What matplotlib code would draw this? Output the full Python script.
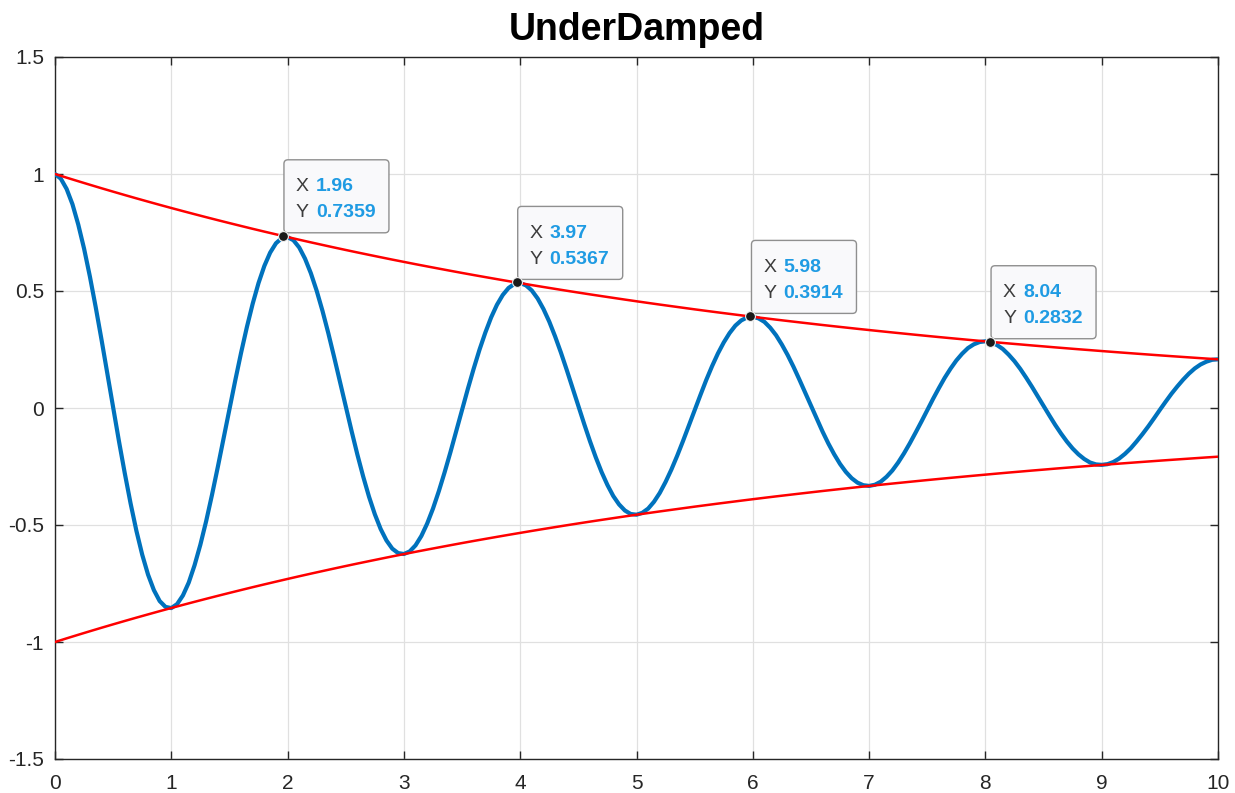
import matplotlib
matplotlib.use("Agg")
import matplotlib.pyplot as plt
from matplotlib.patches import FancyBboxPatch
from matplotlib.transforms import IdentityTransform

plt.rcParams['font.family'] = ['Liberation Sans', 'DejaVu Sans']
plt.rcParams['axes.unicode_minus'] = False

# ---- data ----
t = [round(0.05 * k, 2) for k in range(201)]
response = [
    1.000, 0.980, 0.936, 0.871, 0.784, 0.681, 0.562, 0.431, 0.292, 0.147,
    0.002, -0.142, -0.279, -0.408, -0.525, -0.627, -0.712, -0.778, -0.825, -0.850,
    -0.855, -0.838, -0.801, -0.746, -0.672, -0.584, -0.483, -0.371, -0.252, -0.129,
    -0.005, 0.118, 0.236, 0.346, 0.446, 0.534, 0.607, 0.664, 0.704, 0.726,
    0.730, 0.717, 0.686, 0.638, 0.576, 0.501, 0.415, 0.320, 0.218, 0.113,
    0.007, -0.098, -0.199, -0.293, -0.379, -0.454, -0.517, -0.566, -0.601, -0.620,
    -0.624, -0.613, -0.587, -0.547, -0.494, -0.430, -0.356, -0.275, -0.189, -0.099,
    -0.008, 0.082, 0.168, 0.249, 0.322, 0.387, 0.441, 0.483, 0.513, 0.530,
    0.534, 0.524, 0.502, 0.468, 0.423, 0.369, 0.306, 0.237, 0.163, 0.086,
    0.009, -0.068, -0.142, -0.211, -0.274, -0.329, -0.376, -0.412, -0.438, -0.453,
    -0.456, -0.448, -0.430, -0.401, -0.363, -0.316, -0.263, -0.204, -0.141, -0.075,
    -0.009, 0.056, 0.120, 0.179, 0.233, 0.280, 0.320, 0.352, 0.374, 0.387,
    0.390, 0.383, 0.368, 0.343, 0.311, 0.271, 0.226, 0.176, 0.122, 0.066,
    0.009, -0.047, -0.101, -0.152, -0.198, -0.239, -0.273, -0.300, -0.319, -0.330,
    -0.333, -0.328, -0.315, -0.294, -0.267, -0.233, -0.194, -0.151, -0.105, -0.058,
    -0.009, 0.039, 0.085, 0.129, 0.168, 0.203, 0.232, 0.256, 0.272, 0.282,
    0.285, 0.280, 0.269, 0.252, 0.228, 0.200, 0.167, 0.130, 0.091, 0.050,
    0.009, -0.032, -0.072, -0.109, -0.143, -0.173, -0.198, -0.218, -0.233, -0.241,
    -0.243, -0.240, -0.231, -0.216, -0.196, -0.172, -0.143, -0.112, -0.079, -0.044,
    -0.008, 0.027, 0.061, 0.092, 0.121, 0.147, 0.169, 0.186, 0.198, 0.206,
    0.208,
]
t_env = [round(0.1 * k, 1) for k in range(101)]
envelope_upper = [
    1.0000, 0.9844, 0.9691, 0.9540, 0.9391, 0.9245, 0.9101, 0.8959, 0.8820, 0.8682,
    0.8547, 0.8414, 0.8283, 0.8154, 0.8027, 0.7902, 0.7779, 0.7657, 0.7538, 0.7421,
    0.7305, 0.7191, 0.7079, 0.6969, 0.6860, 0.6753, 0.6648, 0.6545, 0.6443, 0.6342,
    0.6244, 0.6146, 0.6051, 0.5957, 0.5864, 0.5772, 0.5682, 0.5594, 0.5507, 0.5421,
    0.5337, 0.5253, 0.5171, 0.5091, 0.5011, 0.4933, 0.4856, 0.4781, 0.4707, 0.4633,
    0.4561, 0.4490, 0.4420, 0.4352, 0.4284, 0.4216, 0.4151, 0.4086, 0.4023, 0.3960,
    0.3898, 0.3837, 0.3777, 0.3719, 0.3661, 0.3604, 0.3547, 0.3492, 0.3438, 0.3384,
    0.3332, 0.3280, 0.3229, 0.3179, 0.3129, 0.3080, 0.3032, 0.2985, 0.2939, 0.2893,
    0.2848, 0.2803, 0.2759, 0.2717, 0.2674, 0.2633, 0.2591, 0.2551, 0.2511, 0.2473,
    0.2434, 0.2396, 0.2359, 0.2322, 0.2286, 0.2250, 0.2215, 0.2181, 0.2147, 0.2113,
    0.2081,
]
envelope_lower = [-v for v in envelope_upper]

tip_x = [1.96, 3.97, 5.98, 8.04]
tip_y = [0.7359, 0.5367, 0.3914, 0.2832]
tip_x_text = ["1.96", "3.97", "5.98", "8.04"]
tip_y_text = ["0.7359", "0.5367", "0.3914", "0.2832"]

xticks = [0, 1, 2, 3, 4, 5, 6, 7, 8, 9, 10]
xtick_labels = ["0", "1", "2", "3", "4", "5", "6", "7", "8", "9", "10"]
yticks = [-1.5, -1, -0.5, 0, 0.5, 1, 1.5]
ytick_labels = ["-1.5", "-1", "-0.5", "0", "0.5", "1", "1.5"]

title = "UnderDamped"

# ---- figure ----
fig = plt.figure(figsize=(12.35, 7.93), dpi=100)
ax = fig.add_axes([55 / 1235, 1 - 759 / 793, (1218 - 55) / 1235, (759 - 57) / 793])

ax.plot(t, response, color='#0072BD', lw=3.0, zorder=3,
        solid_capstyle='round', solid_joinstyle='round')
ax.plot(t_env, envelope_upper, color='#FF0000', lw=1.8, zorder=4)
ax.plot(t_env, envelope_lower, color='#FF0000', lw=1.8, zorder=4)

ax.set_xlim(0, 10)
ax.set_ylim(-1.5, 1.5)
ax.set_xticks(xticks)
ax.set_xticklabels(xtick_labels)
ax.set_yticks(yticks)
ax.set_yticklabels(ytick_labels)
ax.tick_params(direction='in', length=6, width=1, colors='#262626',
               top=True, right=True, labelsize=15)
ax.tick_params(axis='x', pad=11)
ax.tick_params(axis='y', pad=8)
ax.grid(True, color='#e0e0e0', lw=0.9)
ax.set_axisbelow(True)
for s in ax.spines.values():
    s.set_color('#262626')
    s.set_linewidth(1.0)

ax.set_title(title, fontsize=27, fontweight='bold', pad=12, color='#000000')

# ---- data tips ----
ax.scatter(tip_x, tip_y, s=50, color='#1a1a1a', zorder=8,
           edgecolors='#f0f0f0', linewidths=0.8)
label_color = '#3c3c3c'
value_color = '#1f9be3'
for xv, yv, xs, ys in zip(tip_x, tip_y, tip_x_text, tip_y_text):
    px, py = ax.transData.transform((xv, yv))
    box = FancyBboxPatch((px + 1, py + 3), 105, 73,
                         boxstyle='round,pad=0,rounding_size=4',
                         transform=IdentityTransform(),
                         facecolor='#f9f9fb', edgecolor='#8f8f8f', lw=1.0,
                         zorder=7)
    ax.add_artist(box)
    for dy, lab, val in ((49, "X", xs), (23, "Y", ys)):
        ax.annotate(lab, (xv, yv), xytext=(13, dy), textcoords='offset pixels',
                    ha='left', va='center', fontsize=14, color=label_color,
                    zorder=9)
        ax.annotate(val, (xv, yv), xytext=(33, dy), textcoords='offset pixels',
                    ha='left', va='center', fontsize=14, fontweight='bold',
                    color=value_color, zorder=9)

fig.savefig('out.png', dpi=100)
